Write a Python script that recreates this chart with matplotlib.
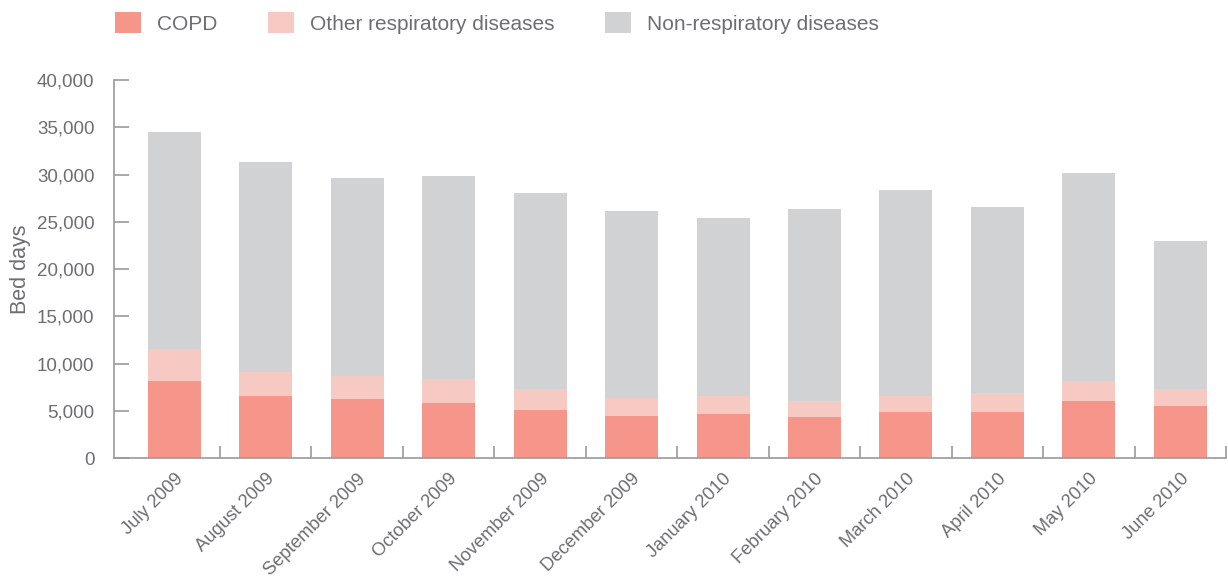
import matplotlib.pyplot as plt
import numpy as np
from matplotlib.patches import Patch
from matplotlib.ticker import FuncFormatter, FixedLocator

months = ['July 2009', 'August 2009', 'September 2009', 'October 2009',
          'November 2009', 'December 2009', 'January 2010', 'February 2010',
          'March 2010', 'April 2010', 'May 2010', 'June 2010']

# bed days per month, one segment of each stacked bar
copd = [8150, 6560, 6240, 5820, 5080, 4440, 4660, 4340, 4870, 4870, 6030, 5500]
other_resp = [3380, 2570, 2470, 2540, 2190, 1910, 1930, 1690, 1720, 2010, 2120, 1770]
non_resp = [22970, 22190, 20920, 21480, 20770, 19790, 18810, 20320, 21770, 19680, 22010, 15690]

series_names = ['COPD', 'Other respiratory diseases', 'Non-respiratory diseases']
colors = ['#f6968a', '#f6c9c3', '#d1d2d4']

text_col = '#6d6e71'
axis_col = '#9a9a9a'

plt.rcParams['font.family'] = ['Liberation Sans', 'DejaVu Sans']

fig = plt.figure(figsize=(12.28, 5.8), dpi=100)
ax = fig.add_axes([0.0928, 0.2103, 0.9056, 0.6517])

x = np.arange(len(months))
bottom = np.zeros(len(months))
for vals, col in zip([copd, other_resp, non_resp], colors):
    ax.bar(x, vals, width=0.58, bottom=bottom, color=col, linewidth=0)
    bottom += np.array(vals)

ax.set_xlim(-0.66, 11.5)
ax.set_ylim(0, 40000)

for s in ['top', 'right']:
    ax.spines[s].set_visible(False)
for s in ['left', 'bottom']:
    ax.spines[s].set_color(axis_col)
    ax.spines[s].set_linewidth(1.2)

ax.set_yticks(np.arange(0, 40001, 5000))
ax.yaxis.set_major_formatter(FuncFormatter(lambda v, p: f'{int(v):,}'))
ax.tick_params(axis='y', direction='in', length=11, width=1.2, color=axis_col,
               labelsize=13.5, labelcolor=text_col, pad=14)

# month labels at bar centres, tick marks between the bars
ax.set_xticks(x)
ax.set_xticklabels(months, rotation=45, ha='right', rotation_mode='anchor')
ax.tick_params(axis='x', which='major', length=0, labelsize=13.2,
               labelcolor=text_col, pad=9)
ax.xaxis.set_minor_locator(FixedLocator(np.arange(0.5, 12, 1)))
ax.tick_params(axis='x', which='minor', direction='in', length=9, width=1.2,
               color=axis_col)

ax.set_ylabel('Bed days', fontsize=15.5, color=text_col, labelpad=4)

handles = [Patch(facecolor=c, edgecolor='none') for c in colors]
fig.legend(handles, series_names, loc='upper left', ncol=3, frameon=False,
           bbox_to_anchor=(115 / 1228, 1 - 12 / 580), borderpad=0,
           borderaxespad=0, fontsize=15, labelcolor=text_col,
           handlelength=1.25, handleheight=1.2, handletextpad=0.75,
           columnspacing=2.45)

fig.savefig('out.png', dpi=100)
